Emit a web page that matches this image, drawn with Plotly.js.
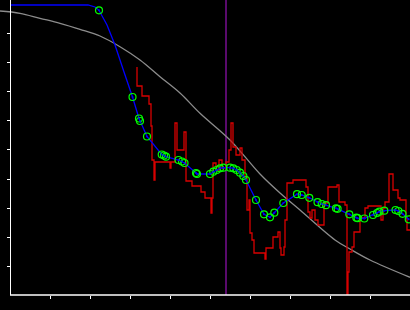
<!DOCTYPE html>
<html>
<head>
<meta charset="utf-8">
<script src="https://cdn.plot.ly/plotly-3.0.1.min.js"></script>
<style>
html,body{margin:0;padding:0;background:#000;}
#chart{width:410px;height:310px;}
</style>
</head>
<body>
<div id="chart"></div>
<script>
// Reference curve (gray)
const refX = [-2.5, 2.5, 7.5, 12.5, 17.5, 22.5, 27.5, 32.5, 37.5, 42.5, 47.5, 55, 62.5, 67.5, 72.5, 81.25, 85, 90, 100];
const refY = [97.93, 97.14, 95.41, 93.69, 91.62, 89.31, 85.62, 81.03, 75.28, 69.66, 62.66, 53.45, 41.72, 35.17, 29.31, 18.97, 15.86, 12.07, 6.10];

// Raw measurement (red, stepped)
const rawX = [31.75, 31.75, 33, 34.75, 35.25, 35.5, 36, 36.25, 40, 40.25,
  41.25, 41.75, 43.5, 44, 45.5, 47.75, 48.75, 50.25, 50.5, 50.75,
  51.5, 52.25, 53, 54, 54.75, 55.25, 55.75, 56.5, 57.5, 58,
  58.75, 59.25, 59.75, 60, 60.5, 61, 63.75, 64, 65.75, 67,
  67.5, 67.75, 68.5, 68.75, 69.25, 70.75, 74, 74.5, 75, 75.5,
  76.25, 77, 78.5, 79.5, 81.75, 82.25, 83.75, 84.25, 84.5, 84.75,
  85.5, 86, 87.5, 88.75, 89.5, 92.75, 93.25, 93.75, 94.75, 95.75,
  97, 97.5, 99, 99.25, 100];
const rawY = [78.62, 72.07, 68.62, 65.86, 58.28, 46.55, 39.66, 45.86, 43.79, 45.86,
  59.31, 50.00, 56.21, 39.31, 37.59, 35.52, 33.45, 28.28, 33.45, 45.52,
  43.10, 46.55, 43.79, 45.86, 50.00, 59.31, 51.03, 48.28, 50.69, 46.55,
  40.69, 29.31, 32.76, 21.38, 18.97, 14.48, 12.41, 16.21, 20.00, 21.72,
  16.21, 13.79, 16.55, 25.86, 38.62, 39.66, 37.24, 28.62, 26.55, 29.31,
  25.86, 24.14, 31.72, 37.24, 37.93, 32.07, 31.03, 0, 7.93, 14.83,
  16.55, 21.72, 26.55, 30.00, 30.69, 25.86, 30.00, 32.07, 41.72, 36.21,
  33.45, 32.76, 26.55, 22.41, 22.41];

// Fitted path (blue) leading points without markers
const leadX = [0, 19.5, 21.25];
const leadY = [100, 100, 99.31];
const bridgeX = [24.25, 26.25, 28.5];
const bridgeY = [93.10, 86.21, 76.90];

// Sample points (green circles)
const ptX = [22.25, 30.63, 32.25, 32.5, 34.25, 37.93, 38.5, 39, 42.13, 43,
  43.63, 46.5, 46.75, 50, 50.83, 51.68, 52.5, 53.33, 55, 55.83,
  56.68, 57.5, 58.33, 59, 61.5, 63.5, 65, 66.08, 68.33, 71.75,
  72.93, 74.83, 76.88, 77.93, 79, 81.5, 81.9, 84.83, 86.58, 86.9,
  88.58, 90.75, 91.75, 92.33, 93.58, 96.38, 97.08, 98.13, 99.68];
const ptY = [98.17, 68.28, 60.86, 60.00, 54.66, 48.45, 48.10, 47.69, 46.55, 46.03,
  45.52, 42.07, 41.72, 41.72, 42.52, 43.10, 43.69, 43.90, 43.90, 43.69,
  43.10, 42.17, 41.03, 39.66, 32.76, 27.83, 26.79, 28.38, 31.72, 34.76,
  34.48, 33.52, 32.00, 31.38, 30.97, 29.90, 29.70, 27.83, 26.66, 26.50,
  26.38, 27.59, 28.28, 28.72, 29.07, 29.31, 28.97, 28.00, 26.10];

const cursorX = 54;

const blueX = leadX.concat([ptX[0]], bridgeX, ptX.slice(1));
const blueY = leadY.concat([ptY[0]], bridgeY, ptY.slice(1));

const traces = [
  {x: refX, y: refY, mode: 'lines', line: {color: '#8c8c8c', width: 1.3, shape: 'spline'}, hoverinfo: 'skip'},
  {x: rawX, y: rawY, mode: 'lines', line: {color: '#d80000', width: 1.3, shape: 'hv'}, hoverinfo: 'skip'},
  {x: blueX, y: blueY, mode: 'lines', line: {color: '#0000ff', width: 1.3}, hoverinfo: 'skip'},
  {x: ptX, y: ptY, mode: 'markers', marker: {symbol: 'circle-open', size: 7, color: '#00ff00', line: {width: 1.2, color: '#00ff00'}}, hoverinfo: 'skip'},
  {x: ptX, y: ptY, mode: 'markers', marker: {symbol: 'circle', size: 2, color: '#0000ff'}, hoverinfo: 'skip'}
];

const layout = {
  width: 410, height: 310,
  margin: {l: 0, r: 0, t: 0, b: 15, pad: 0},
  paper_bgcolor: '#000', plot_bgcolor: '#000',
  showlegend: false,
  xaxis: {range: [-2.5, 100], showgrid: false, zeroline: false, showline: false,
    tickvals: [10, 20, 30, 40, 50, 60, 70, 80, 90], ticks: 'outside', ticklen: 3, tickwidth: 1,
    tickcolor: '#fff', showticklabels: false},
  yaxis: {range: [0, 101.72], showgrid: false, zeroline: false, showline: true, linecolor: '#fff', linewidth: 1,
    anchor: 'free', position: 10/410,
    tickvals: [10, 20, 30, 40, 50, 60, 70, 80, 90], ticks: 'outside', ticklen: 3, tickwidth: 1,
    tickcolor: '#fff', showticklabels: false},
  shapes: [
    {type: 'line', xref: 'x', yref: 'paper', x0: cursorX, x1: cursorX, y0: 0, y1: 1, line: {color: '#8a10a8', width: 1.3}, layer: 'below'},
    {type: 'line', xref: 'x', yref: 'paper', x0: 0, x1: 100, y0: 0, y1: 0, line: {color: '#fff', width: 1.5}}
  ]
};

Plotly.newPlot('chart', traces, layout, {staticPlot: true, displayModeBar: false});
</script>
</body>
</html>
